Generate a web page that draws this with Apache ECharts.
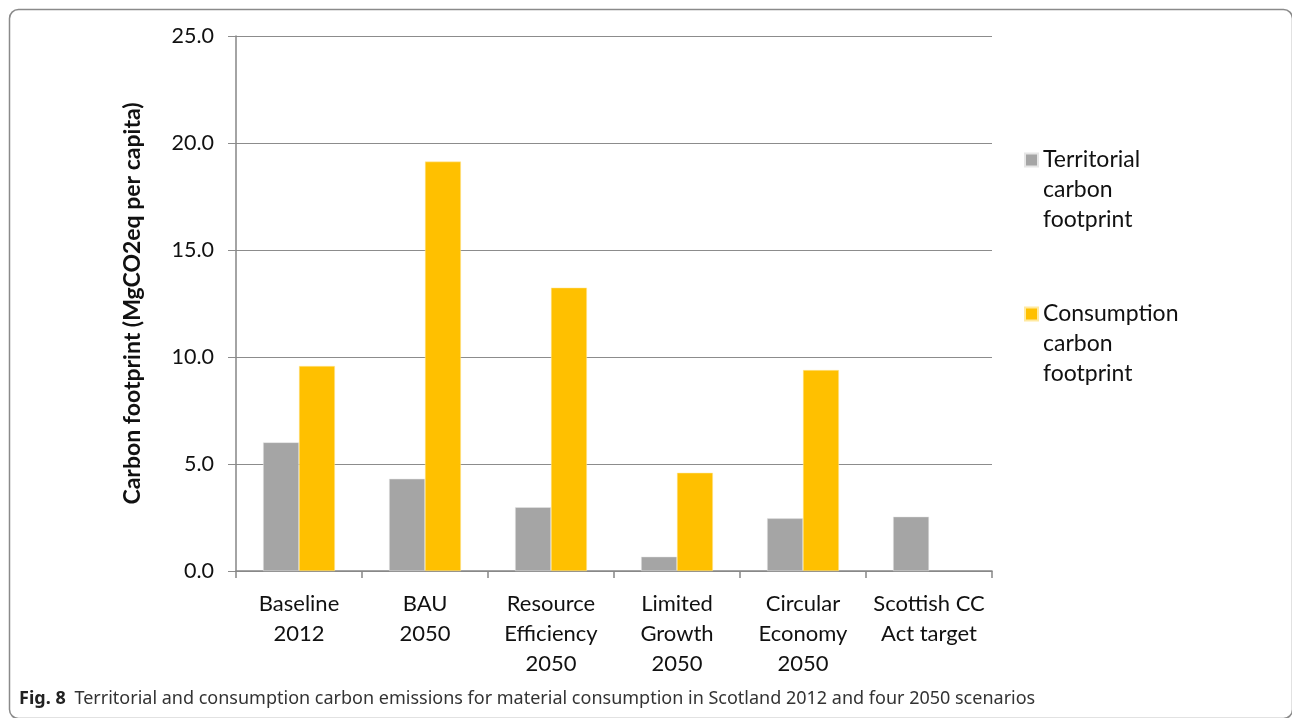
<!DOCTYPE html>
<html>
<head>
<meta charset="utf-8">
<script src="https://cdn.jsdelivr.net/npm/echarts@6/dist/echarts.min.js"></script>
<style>
html,body{margin:0;padding:0;background:#fff;}
#chart{width:1292px;height:718px;}
</style>
</head>
<body>
<div id="chart"></div>
<script>
const categories = ["Baseline\n2012", "BAU\n2050", "Resource\nEfficiency\n2050", "Limited\nGrowth\n2050", "Circular\nEconomy\n2050", "Scottish CC\nAct target"];
const territorial = [6.01, 4.31, 2.98, 0.67, 2.46, 2.54];
const consumption = [9.58, 19.13, 13.24, 4.59, 9.39, null];
const seriesNames = ["Territorial carbon footprint", "Consumption carbon footprint"];
const legendLines = {
  "Territorial carbon footprint": ["Territorial", "carbon", "footprint"],
  "Consumption carbon footprint": ["Consumption", "carbon", "footprint"]
};
const yTicks = { min: 0, max: 25, interval: 5 };
const yTitle = "Carbon footprint (MgCO2eq per capita)";
const captionBold = "Fig. 8";
const captionText = "Territorial and consumption carbon emissions for material consumption in Scotland 2012 and four 2050 scenarios";

const FONT = "Lato";
const chart = echarts.init(document.getElementById('chart'), null, {renderer: 'canvas'});
chart.setOption({
  animation: false,
  backgroundColor: '#fff',
  textStyle: { fontFamily: FONT },
  title: {
    left: 14, top: 685,
    text: '{b|' + captionBold + '}  {r|' + captionText + '}',
    textStyle: {
      rich: {
        b: { fontFamily: 'Noto Sans', fontWeight: 'bold', fontSize: 18, color: '#222' },
        r: { fontFamily: 'Noto Sans', fontWeight: 'normal', fontSize: 18, color: '#333' }
      }
    }
  },
  grid: { left: 236, right: 300, top: 36, bottom: 147 },
  legend: {
    orient: 'vertical',
    left: 1019, top: 80,
    itemWidth: 13, itemHeight: 13, itemGap: 4,
    icon: 'rect',
    data: seriesNames,
    formatter: name => {
      const lines = legendLines[name];
      // pad with blank lines above so the first line sits level with the icon
      return '\n'.repeat(lines.length - 1) + lines.join('\n');
    },
    textStyle: { fontFamily: FONT, fontSize: 23, color: '#111', lineHeight: 30 }
  },
  xAxis: {
    type: 'category',
    data: categories,
    axisLine: { lineStyle: { color: '#868686', width: 1.5 } },
    axisTick: { show: true, length: 7, interval: 0, lineStyle: { color: '#868686', width: 1.5 } },
    axisLabel: { interval: 0, fontFamily: FONT, fontSize: 22, color: '#111', lineHeight: 30, margin: 18, verticalAlign: 'top' }
  },
  yAxis: {
    type: 'value',
    min: yTicks.min, max: yTicks.max, interval: yTicks.interval,
    name: yTitle,
    nameLocation: 'middle',
    nameGap: 92,
    nameTextStyle: { fontFamily: FONT, fontSize: 23, fontWeight: 'bold', color: '#111' },
    axisLine: { show: true, lineStyle: { color: '#868686', width: 1.5 } },
    axisTick: { show: true, length: 8, lineStyle: { color: '#8c8c8c', width: 1 } },
    axisLabel: { fontFamily: FONT, fontSize: 21.5, color: '#111', margin: 22, formatter: v => v.toFixed(1) },
    splitLine: { show: true, lineStyle: { color: '#8c8c8c', width: 1 } }
  },
  series: [
    { name: seriesNames[0], type: 'bar', data: territorial, barGap: '0%', barCategoryGap: '43%',
      itemStyle: { color: '#a5a5a5', borderColor: '#e6e6e6', borderWidth: 0.5 } },
    { name: seriesNames[1], type: 'bar', data: consumption, barGap: '0%', barCategoryGap: '43%',
      itemStyle: { color: '#ffc000', borderColor: '#ffe9a0', borderWidth: 0.5 } }
  ],
  graphic: [
    { type: 'rect', left: 7, top: 7, silent: true, z: -1,
      shape: { width: 1283, height: 709, r: 9 },
      style: { fill: 'none', stroke: '#8a8a8a', lineWidth: 1.5 } }
  ]
});
</script>
</body>
</html>
